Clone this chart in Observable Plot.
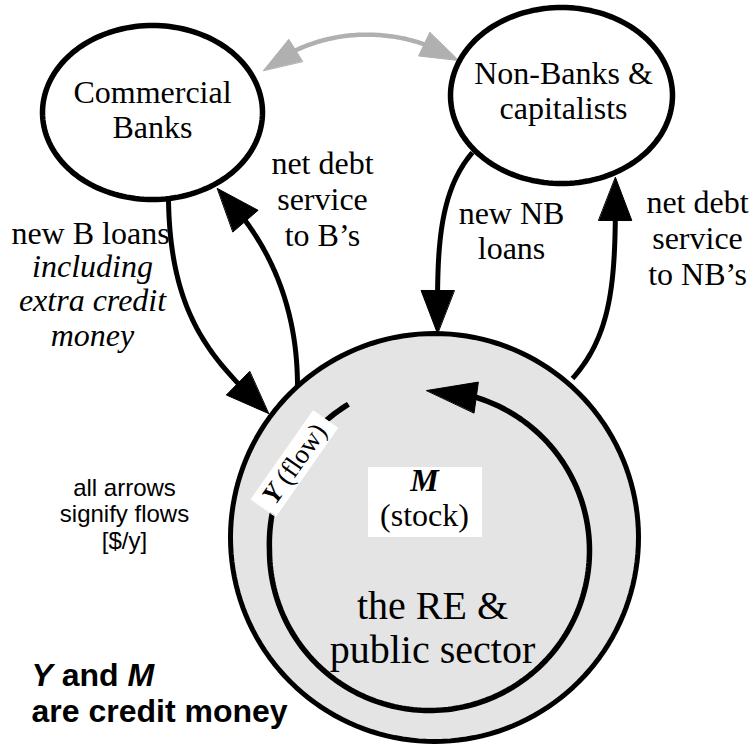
<!DOCTYPE html>
<html>
<head>
<meta charset="utf-8">
<script src="https://cdn.jsdelivr.net/npm/d3@7"></script>
<script src="https://cdn.jsdelivr.net/npm/@observablehq/plot@0.6"></script>
<style>
  body { margin: 0; background: #fff; }
  #chart { width: 755px; height: 746px; }
</style>
</head>
<body>
<div id="chart"></div>
<script>
const W = 755, H = 746;

// ---- nodes of the diagram (ellipses) ----
const nodeIds = ["Commercial Banks", "Non-Banks & capitalists", "RE & public sector"];
const nodeX   = [152, 561, 434];
const nodeY   = [112, 95, 537];
const nodeRX  = [110, 111, 204];
const nodeRY  = [87, 88, 204];

// ---- flows between nodes: cubic Bezier control points ----
const flowIds = ["new B loans", "net debt service to B's", "new NB loans", "net debt service to NB's", "B <-> NB"];
const flowCtrl = [
  [[168, 200], [170, 320], [215, 362], [268, 413]],
  [[297, 386], [297, 300], [265, 236], [217, 188]],
  [[472, 152], [435, 195], [437, 260], [437, 333]],
  [[572, 378], [615, 330], [615, 270], [615, 177]],
  [[263, 70], [320, 24], [400, 24], [458, 60]]
];
const flowTwoWay = [false, false, false, false, true];

// ---- circulating flow Y inside the RE & public sector ----
const loopCenter = [429, 550];
const loopRadii = [160, 160];
const loopFromDeg = -29;
const loopToDeg = -361;

// ---- labels (text, anchor x, baseline of last line) ----
const labelText = [
  "Commercial\nBanks",
  "Non-Banks &\ncapitalists",
  "net debt\nservice\nto B\u2019s",
  "new B loans",
  "including\nextra credit\nmoney",
  "new NB\nloans",
  "net debt\nservice\nto NB\u2019s",
  "all arrows\nsignify flows\n[$/y]",
  "Y and M",
  "are credit money",
  "M\n(stock)",
  "the RE &\npublic sector"
];
const labelX = [152, 563, 322, 90, 92, 511, 697, 124, 31, 31, 424, 432];
const labelY = [137, 118, 245, 243, 345, 258, 284, 548, 685, 721, 525, 662];

const yFlowLabel = "Y (flow)";
const yFlowAt = [294, 463];
const yFlowAngle = -55;

const stockBox = [368, 467, 482, 537];

// ---------- geometry helpers ----------
function ellipsePts(id, cx, cy, rx, ry, n = 160) {
  return d3.range(n).map(i => {
    const a = 2 * Math.PI * i / n;
    return {id, x: cx + rx * Math.cos(a), y: cy + ry * Math.sin(a)};
  });
}
function cubic(c, n = 90) {
  return d3.range(n + 1).map(i => {
    const t = i / n, u = 1 - t;
    const b = [u*u*u, 3*u*u*t, 3*u*t*t, t*t*t];
    return [
      b[0]*c[0][0] + b[1]*c[1][0] + b[2]*c[2][0] + b[3]*c[3][0],
      b[0]*c[0][1] + b[1]*c[1][1] + b[2]*c[2][1] + b[3]*c[3][1]
    ];
  });
}
function pointBack(pts, len) {
  let acc = 0;
  for (let i = pts.length - 1; i > 0; i--) {
    const a = pts[i], b = pts[i - 1];
    const d = Math.hypot(a[0] - b[0], a[1] - b[1]);
    if (acc + d >= len) {
      const f = (len - acc) / d;
      return {i, p: [a[0] + (b[0] - a[0]) * f, a[1] + (b[1] - a[1]) * f]};
    }
    acc += d;
  }
  return {i: 0, p: pts[0]};
}
function trimEnd(pts, len) {
  const {i, p} = pointBack(pts, len);
  return pts.slice(0, i).concat([p]);
}
function headTri(pts, L, Wd) {
  const tip = pts[pts.length - 1];
  const back = pointBack(pts, L).p;
  const dx = tip[0] - back[0], dy = tip[1] - back[1], d = Math.hypot(dx, dy);
  const ux = dx / d, uy = dy / d;
  const bx = tip[0] - ux * L, by = tip[1] - uy * L;
  return [tip, [bx - uy * Wd / 2, by + ux * Wd / 2], [bx + uy * Wd / 2, by - ux * Wd / 2]];
}

// ---------- build mark data ----------
const smallNodes = [], bigNode = [];
nodeIds.forEach((id, i) => {
  const pts = ellipsePts(id, nodeX[i], nodeY[i], nodeRX[i], nodeRY[i]);
  (i === 2 ? bigNode : smallNodes).push(...pts);
});

const blackLines = [], blackHeads = [], grayLines = [], grayHeads = [];
flowIds.forEach((id, i) => {
  const gray = flowTwoWay[i];
  const L = gray ? 38 : 43, Wd = gray ? 26 : 33;
  let pts = cubic(flowCtrl[i]);
  const heads = [headTri(pts, L, Wd)];
  pts = trimEnd(pts, L * 0.7);
  if (gray) {
    let rev = pts.slice().reverse();
    heads.push(headTri(cubic(flowCtrl[i]).reverse(), L, Wd));
    rev = trimEnd(rev, L * 0.7);
    pts = rev.reverse();
  }
  const lineArr = gray ? grayLines : blackLines;
  const headArr = gray ? grayHeads : blackHeads;
  pts.forEach(p => lineArr.push({id, x: p[0], y: p[1]}));
  heads.forEach((h, k) => h.forEach(p => headArr.push({id: id + k, x: p[0], y: p[1]})));
});

// loop (Y flow) – slight outward drift near its start
const loopPts = d3.range(0, 241).map(k => {
  const deg = loopFromDeg + (loopToDeg - loopFromDeg) * k / 240;
  const s = 1 + 0.045 * Math.max(0, Math.min(1, (deg + 90) / 61));
  const a = deg * Math.PI / 180;
  return [loopCenter[0] + loopRadii[0] * s * Math.sin(a), loopCenter[1] - loopRadii[1] * s * Math.cos(a)];
});
const loopHead = headTri(loopPts, 50, 31);
const loopLine = trimEnd(loopPts, 35).map(p => ({id: "Y", x: p[0], y: p[1]}));
loopHead.forEach(p => blackHeads.push({id: "Yhead", x: p[0], y: p[1]}));

// white box under the rotated "Y (flow)" label
const ang = yFlowAngle * Math.PI / 180;
const ux = Math.cos(ang), uy = Math.sin(ang), nx = -uy, ny = ux;
const hl = 54, hh = 15;
const yBox = [[-1, -1], [1, -1], [1, 1], [-1, 1]].map(([a, b]) => ({
  x: yFlowAt[0] + ux * hl * a + nx * hh * b,
  y: yFlowAt[1] + uy * hl * a + ny * hh * b
}));

const labels = labelText.map((text, i) => ({text, x: labelX[i], y: labelY[i]}));
const SERIF = "'Liberation Serif', 'Times New Roman', Times, serif";
const SANS = "'Liberation Sans', Arial, Helvetica, sans-serif";
const lab = (i, o) => Plot.text([labels[i]], {x: "x", y: "y", text: "text", lineAnchor: "bottom", fill: "black", ...o});

const chart = Plot.plot({
  width: W, height: H, margin: 0,
  x: {domain: [0, W], range: [0, W], axis: null},
  y: {domain: [0, H], range: [0, H], axis: null},
  style: {background: "white", overflow: "visible"},
  marks: [
    // RE & public sector
    Plot.line(bigNode, {x: "x", y: "y", z: "id", curve: "linear-closed", fill: "#e4e4e4", stroke: "black", strokeWidth: 5}),
    // flows
    Plot.line(blackLines, {x: "x", y: "y", z: "id", stroke: "black", strokeWidth: 5, strokeLinecap: "butt"}),
    Plot.line(grayLines, {x: "x", y: "y", z: "id", stroke: "#b0b0b0", strokeWidth: 4.5, strokeLinecap: "butt"}),
    Plot.line(loopLine, {x: "x", y: "y", z: "id", stroke: "black", strokeWidth: 5.5, strokeLinecap: "butt"}),
    Plot.line(blackHeads, {x: "x", y: "y", z: "id", curve: "linear-closed", fill: "black", stroke: "black", strokeWidth: 1}),
    Plot.line(grayHeads, {x: "x", y: "y", z: "id", curve: "linear-closed", fill: "#b0b0b0", stroke: "#b0b0b0", strokeWidth: 1}),
    // bank nodes
    Plot.line(smallNodes, {x: "x", y: "y", z: "id", curve: "linear-closed", fill: "white", stroke: "black", strokeWidth: 5.5}),
    // white label boxes
    Plot.line(yBox, {x: "x", y: "y", curve: "linear-closed", fill: "white", stroke: "white", strokeWidth: 1}),
    Plot.rect([stockBox], {x1: d => d[0], y1: d => d[1], x2: d => d[2], y2: d => d[3], fill: "white"}),
    // labels
    lab(0, {fontFamily: SERIF, fontSize: 32, lineHeight: 1.09}),
    lab(1, {fontFamily: SERIF, fontSize: 32, lineHeight: 1.09}),
    lab(2, {fontFamily: SERIF, fontSize: 32, lineHeight: 1.125}),
    lab(3, {fontFamily: SERIF, fontSize: 32}),
    lab(4, {fontFamily: SERIF, fontSize: 32, fontStyle: "italic", lineHeight: 1.07}),
    lab(5, {fontFamily: SERIF, fontSize: 32, lineHeight: 1.09}),
    lab(6, {fontFamily: SERIF, fontSize: 32, lineHeight: 1.11}),
    lab(7, {fontFamily: SANS, fontSize: 24, lineHeight: 1.1}),
    lab(8, {fontFamily: SANS, fontSize: 32, fontWeight: "bold", textAnchor: "start"}),
    lab(9, {fontFamily: SANS, fontSize: 32, fontWeight: "bold", textAnchor: "start"}),
    lab(10, {fontFamily: SERIF, fontSize: 32, lineHeight: 1.09}),
    lab(11, {fontFamily: SERIF, fontSize: 40, lineHeight: 1.1}),
    Plot.text([{text: yFlowLabel, x: yFlowAt[0], y: yFlowAt[1]}], {x: "x", y: "y", text: "text", rotate: yFlowAngle, fontFamily: SERIF, fontSize: 27, fill: "black"})
  ]
});

// italic symbols (Y, M) inside labels
const svgNS = "http://www.w3.org/2000/svg";
function emphasize(root, full, words, bold) {
  root.querySelectorAll("text, tspan").forEach(el => {
    if (el.children.length === 0 && el.textContent === full) {
      el.textContent = "";
      full.split(/(\s+)/).forEach(part => {
        if (words.includes(part)) {
          const t = document.createElementNS(svgNS, "tspan");
          t.setAttribute("font-style", "italic");
          if (bold) t.setAttribute("font-weight", "bold");
          t.textContent = part;
          el.appendChild(t);
        } else {
          el.appendChild(document.createTextNode(part));
        }
      });
    }
  });
}
emphasize(chart, "Y and M", ["Y", "M"], true);
emphasize(chart, "M", ["M"], true);
emphasize(chart, "Y (flow)", ["Y"], true);

document.getElementById("chart").appendChild(chart);
</script>
</body>
</html>
